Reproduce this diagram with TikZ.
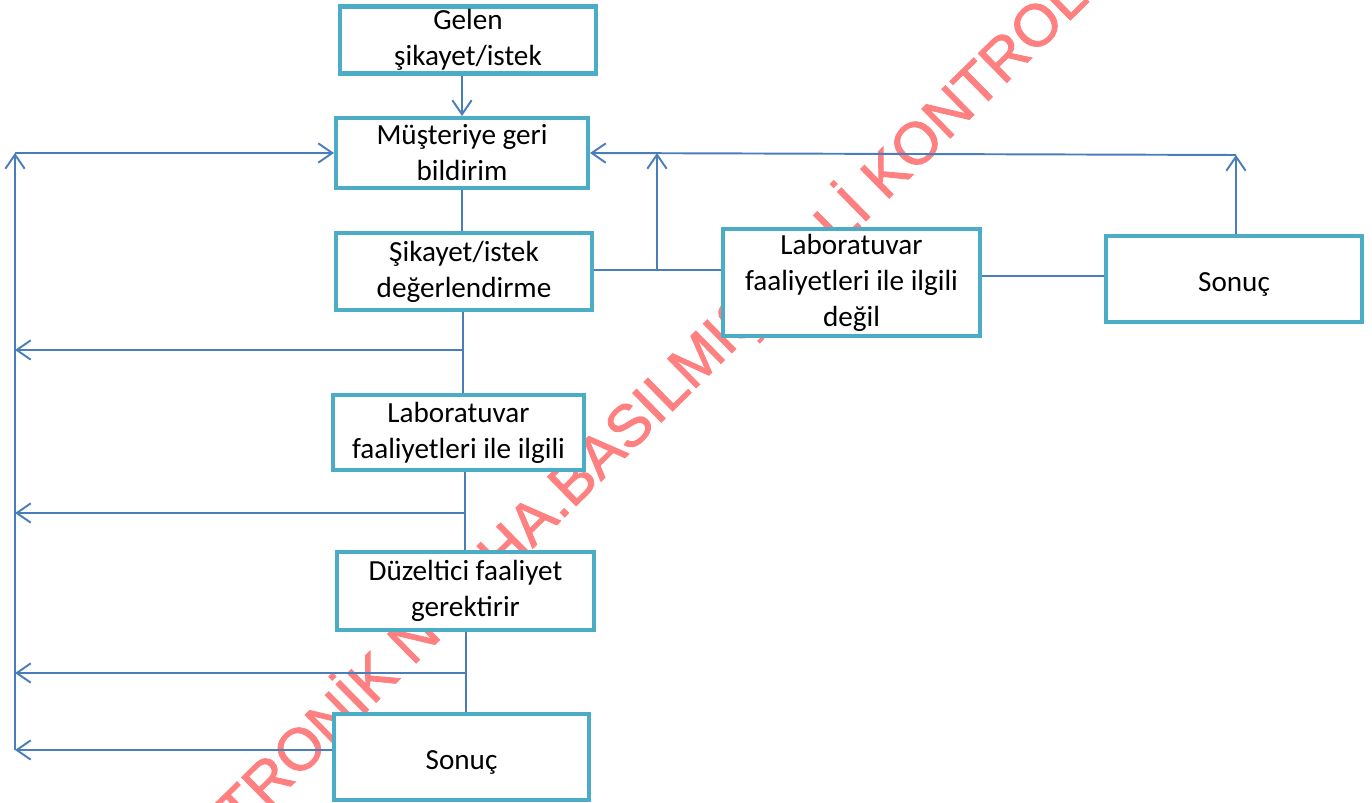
\documentclass[tikz,border=0pt]{standalone}
\usepackage{fontspec}
\setmainfont{Carlito}
\newfontfamily\wmfont[FakeBold=1.5]{Liberation Sans}
\usetikzlibrary{arrows.meta}
\definecolor{boxline}{RGB}{75,172,198}
\definecolor{edgeline}{RGB}{74,126,187}
\definecolor{wmred}{RGB}{255,128,128}

\begin{document}
\begin{tikzpicture}[x=0.02cm,y=-0.02cm]
\tikzset{BoxStyle/.style={rectangle, draw=boxline, line width=2.3pt, fill=white,
  inner sep=0pt, align=center, font=\fontsize{16.6}{20.5}\selectfont}}
\tikzset{OneLine/.style={BoxStyle, text height=17pt, text depth=3pt}}
\tikzset{EdgeStyle/.style={draw=edgeline, line width=1.1pt}}
\tikzset{ArrowStyle/.style={EdgeStyle, -{Straight Barb[length=8pt,width=11pt]}}}
\useasboundingbox (0,0) rectangle (1372,803);
% watermark
\begin{scope}
\clip (0,0) rectangle (1372,803);
\node[text=wmred, rotate=44.5, font=\wmfont\fontsize{33.8}{33.8}\selectfont] (WM) at (652,404)
  {TRONİK NÜSHA.BASILMIŞ HALİ KONTROL};
\end{scope}
% boxes
\node[BoxStyle, minimum width=5.12cm, minimum height=1.34cm] (Gelen) at (468,40) {Gelen\\şikayet/istek};
\node[BoxStyle, minimum width=5.04cm, minimum height=1.4cm] (Bildirim) at (462,153) {Müşteriye geri\\bildirim};
\node[BoxStyle, minimum width=5.12cm, minimum height=1.54cm] (Deger) at (464,271.5) {Şikayet/istek\\değerlendirme};
\node[BoxStyle, minimum width=5.02cm, minimum height=1.5cm] (Lab) at (458.5,432.5) {Laboratuvar\\faaliyetleri ile ilgili};
\node[BoxStyle, minimum width=5.14cm, minimum height=1.56cm] (Duz) at (465.5,591) {Düzeltici faaliyet\\gerektirir};
\node[OneLine, minimum width=5.1cm, minimum height=1.72cm] (Sonuc) at (461.5,757) {Sonuç};
\node[BoxStyle, minimum width=5.14cm, minimum height=2.14cm] (LabDegil) at (851.5,282.5) {Laboratuvar\\faaliyetleri ile ilgili\\değil};
\node[OneLine, minimum width=5.12cm, minimum height=1.72cm] (Sonuc2) at (1234,279) {Sonuç};
% joints
\coordinate (B1) at (463,350);
\coordinate (B2) at (465,513);
\coordinate (B3) at (466,673);
\coordinate (Top) at (15,153);
\coordinate (Bot) at (15,750);
\coordinate (J) at (657,270);
\coordinate (K) at (1040,276);
\coordinate (C) at (1236,155);
% connectors
\draw[ArrowStyle] (Gelen.south -| Bildirim) -- (Bildirim);
\draw[EdgeStyle] (Bildirim.south) -- (Bildirim.south |- Deger.north);
\draw[EdgeStyle] (Deger.south -| B1) -- (Lab.north -| B1);
\draw[ArrowStyle] (B1) -- (B1 -| Top);
\draw[EdgeStyle] (Lab.south -| B2) -- (Duz.north -| B2);
\draw[ArrowStyle] (B2) -- (B2 -| Top);
\draw[EdgeStyle] (Duz.south -| B3) -- (Sonuc.north -| B3);
\draw[ArrowStyle] (B3) -- (B3 -| Top);
\draw[ArrowStyle] (Sonuc.west |- Bot) -- (Bot);
\draw[ArrowStyle] (Bot) -- (Top);
\draw[ArrowStyle] (Top) -- (Bildirim.west);
\draw[EdgeStyle] (Deger.east |- J) -- (LabDegil.west |- J);
\draw[ArrowStyle] (J) -- (J |- Bildirim.east);
\draw[EdgeStyle] (LabDegil.east |- K) -- (Sonuc2.west |- K);
\draw[ArrowStyle] (Sonuc2.north -| C) -- (C);
\draw[ArrowStyle] (C) -- (Bildirim.east);
\end{tikzpicture}
\end{document}
